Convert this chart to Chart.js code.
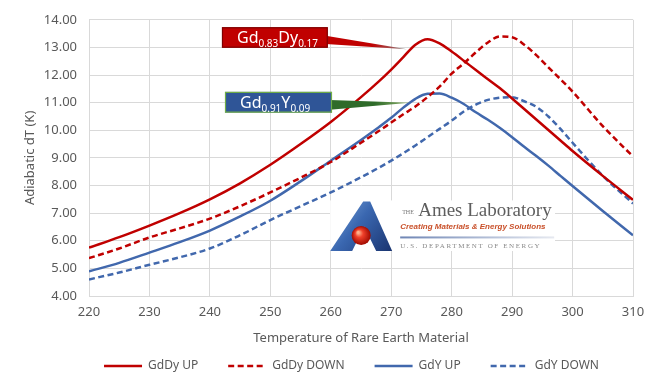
<!DOCTYPE html>
<html>
<head>
<meta charset="utf-8">
<script src="https://cdn.jsdelivr.net/npm/chart.js@4.4.1/dist/chart.umd.min.js"></script>
<style>
  html, body { margin: 0; padding: 0; background: #ffffff; }
  #wrap { width: 656px; height: 374px; }
</style>
</head>
<body>
<div id="wrap"><canvas id="chart" width="656" height="374"></canvas></div>
<script>
// Sample temperatures (K) shared by all four series
const temperatures = [220, 225, 230, 235, 240, 245, 250, 255, 260, 265, 268, 270, 272, 274, 276, 278,
                      280, 282, 284, 286, 288, 290, 292, 294, 296, 298, 300, 305, 310];

// Adiabatic temperature change (K)
const gdDyUp   = [5.75, 6.13, 6.55, 7.00, 7.50, 8.08, 8.75, 9.50, 10.30, 11.20, 11.78, 12.20, 12.65, 13.10, 13.30, 13.15,
                  12.85, 12.52, 12.18, 11.85, 11.52, 11.15, 10.77, 10.39, 10.01, 9.63, 9.25, 8.35, 7.48];
const gdDyDown = [5.37, 5.72, 6.12, 6.45, 6.80, 7.25, 7.75, 8.28, 8.85, 9.55, 9.98, 10.28, 10.58, 10.86, 11.20, 11.58,
                  12.05, 12.42, 12.82, 13.18, 13.40, 13.37, 13.10, 12.72, 12.28, 11.85, 11.40, 10.15, 9.05];
const gdYUp    = [4.89, 5.20, 5.57, 5.95, 6.37, 6.88, 7.45, 8.15, 8.90, 9.65, 10.12, 10.45, 10.82, 11.14, 11.32, 11.33,
                  11.18, 10.95, 10.65, 10.38, 10.08, 9.75, 9.40, 9.07, 8.72, 8.35, 7.98, 7.08, 6.20];
const gdYDown  = [4.60, 4.85, 5.13, 5.40, 5.72, 6.20, 6.75, 7.25, 7.75, 8.30, 8.65, 8.90, 9.17, 9.45, 9.75, 10.05,
                  10.35, 10.68, 10.93, 11.10, 11.18, 11.20, 11.05, 10.85, 10.50, 10.05, 9.55, 8.35, 7.35];

const seriesNames = ['GdDy UP', 'GdDy DOWN', 'GdY UP', 'GdY DOWN'];

// Axis ranges and tick spacing
const xRange = [220, 310];
const xStep = 10;
const yRange = [4, 14];
const yStep = 1;

// Alloy labels: [text, isSubscript]
const gdDyLabel = [['Gd', false], ['0.83', true], ['Dy', false], ['0.17', true]];
const gdYLabel  = [['Gd', false], ['0.91', true], ['Y', false], ['0.09', true]];

const RED = '#c00000';
const BLUE = '#4168ad';
const TEXT = '#595959';
const GRID = '#d9d9d9';
const FONT = "'Noto Sans', 'DejaVu Sans', sans-serif";

function pairs(values) {
  return temperatures.map((t, i) => ({ x: t, y: values[i] }));
}

function makeSet(label, values, color, dashed) {
  return {
    label,
    data: pairs(values),
    borderColor: color,
    backgroundColor: color,
    borderWidth: 2.5,
    borderDash: dashed ? [6, 3.5] : [],
    pointRadius: 0,
    fill: false,
    cubicInterpolationMode: 'monotone'
  };
}

// Draws a label with subscripts starting at x, baseline y
function drawSubText(ctx, parts, x, y, size) {
  let cx = x;
  for (const [txt, sub] of parts) {
    ctx.font = (sub ? Math.round(size * 0.62) : size) + 'px ' + FONT;
    ctx.fillText(txt, cx, sub ? y + size * 0.28 : y);
    cx += ctx.measureText(txt).width;
  }
}

// Callout boxes with tapered pointers toward the curves
const calloutPlugin = {
  id: 'callouts',
  afterDatasetsDraw(chart) {
    const { ctx, scales: { x, y } } = chart;
    const boxes = [
      { parts: gdDyLabel, x0: 242.0, x1: 259.5, y0: 13.73, y1: 12.99, fill: '#c00000', stroke: '#7f0000',
        tip: [272.6, 12.93], c0: '#c00000', c1: '#8c8c8c', baseTop: 13.42, baseBot: 13.12 },
      { parts: gdYLabel, x0: 242.5, x1: 260.2, y0: 11.39, y1: 10.64, fill: '#2f5597', stroke: '#70ad47',
        tip: [273.1, 11.0], c0: '#2f6b2a', c1: '#8fb26b', baseTop: 11.1, baseBot: 10.74 }
    ];
    ctx.save();
    for (const b of boxes) {
      const l = x.getPixelForValue(b.x0), r = x.getPixelForValue(b.x1);
      const t = y.getPixelForValue(b.y0), bt = y.getPixelForValue(b.y1);
      const tx = x.getPixelForValue(b.tip[0]), ty = y.getPixelForValue(b.tip[1]);
      // pointer
      const g = ctx.createLinearGradient(r, 0, tx, 0);
      g.addColorStop(0, b.c0);
      g.addColorStop(0.55, b.c0);
      g.addColorStop(1, b.c1);
      ctx.fillStyle = g;
      ctx.beginPath();
      ctx.moveTo(r - 2, y.getPixelForValue(b.baseTop));
      ctx.lineTo(tx, ty);
      ctx.lineTo(r - 2, y.getPixelForValue(b.baseBot));
      ctx.closePath();
      ctx.fill();
      // box
      ctx.fillStyle = b.fill;
      ctx.fillRect(l, t, r - l, bt - t);
      ctx.strokeStyle = b.stroke;
      ctx.lineWidth = 1.2;
      ctx.strokeRect(l + 0.5, t + 0.5, r - l - 1, bt - t - 1);
      // text
      ctx.fillStyle = '#ffffff';
      ctx.textBaseline = 'alphabetic';
      ctx.textAlign = 'left';
      drawSubText(ctx, b.parts, l + 15, (t + bt) / 2 + 5.5, 16);
    }
    ctx.restore();
  }
};

// Laboratory emblem placed inside the plot
const emblemPlugin = {
  id: 'emblem',
  afterDatasetsDraw(chart) {
    const { ctx, scales: { x, y } } = chart;
    const bx = x.getPixelForValue(259.9), by = y.getPixelForValue(7.46);
    const bw = x.getPixelForValue(297.1) - bx, bh = y.getPixelForValue(5.63) - by;
    ctx.save();
    ctx.fillStyle = '#ffffff';
    ctx.fillRect(bx, by, bw, bh);

    // stylised "A"
    const ax = bx, ay = by;
    const lg = ctx.createLinearGradient(ax, ay, ax + 62, ay + bh);
    lg.addColorStop(0, '#7fa8dc');
    lg.addColorStop(0.45, '#3a67b0');
    lg.addColorStop(1, '#1a3470');
    ctx.fillStyle = lg;
    ctx.beginPath();
    ctx.moveTo(ax, ay + bh);
    ctx.lineTo(ax + 33, ay + 1);
    ctx.lineTo(ax + 40, ay + 1);
    ctx.lineTo(ax + 62, ay + bh);
    ctx.lineTo(ax + 46, ay + bh);
    ctx.lineTo(ax + 34, ay + 26);
    ctx.lineTo(ax + 22, ay + bh);
    ctx.closePath();
    ctx.fill();
    // sphere
    const sx = ax + 31, sy = ay + 35, sr = 9.5;
    const rg = ctx.createRadialGradient(sx - 3, sy - 3, 1, sx, sy, sr);
    rg.addColorStop(0, '#ffb08a');
    rg.addColorStop(0.35, '#f0402a');
    rg.addColorStop(1, '#a00a00');
    ctx.fillStyle = rg;
    ctx.beginPath();
    ctx.arc(sx, sy, sr, 0, Math.PI * 2);
    ctx.fill();

    // wordmark
    ctx.textAlign = 'left';
    ctx.textBaseline = 'alphabetic';
    ctx.fillStyle = '#777777';
    ctx.font = "6px 'Liberation Serif', serif";
    ctx.fillText('THE', ax + 72, ay + 14);
    ctx.fillStyle = '#5e5e5e';
    ctx.font = "19px 'Liberation Serif', serif";
    ctx.fillText('Ames Laboratory', ax + 88, ay + 16);
    ctx.fillStyle = '#c9502a';
    ctx.font = "italic bold 8px 'Liberation Sans', sans-serif";
    ctx.fillText('Creating Materials & Energy Solutions', ax + 70, ay + 29, 152);
    const ug = ctx.createLinearGradient(ax + 70, 0, ax + 224, 0);
    ug.addColorStop(0, '#6f86b5');
    ug.addColorStop(1, '#e6e9f0');
    ctx.fillStyle = ug;
    ctx.fillRect(ax + 70, ay + 36, 154, 2);
    ctx.fillStyle = '#8a8a8a';
    ctx.font = "7px 'Liberation Serif', serif";
    ctx.letterSpacing = '1.6px';
    ctx.fillText('U.S. DEPARTMENT OF ENERGY', ax + 70, ay + 48);
    ctx.restore();
  }
};

// Nudges the legend row so it centres under the plot area
const legendShiftPlugin = {
  id: 'legendShift',
  afterLayout(chart) {
    if (chart.legend) {
      chart.legend.left += 35;
      chart.legend.right += 35;
    }
  }
};

new Chart(document.getElementById('chart'), {
  type: 'line',
  data: {
    datasets: [
      makeSet(seriesNames[0], gdDyUp, RED, false),
      makeSet(seriesNames[1], gdDyDown, RED, true),
      makeSet(seriesNames[2], gdYUp, BLUE, false),
      makeSet(seriesNames[3], gdYDown, BLUE, true)
    ]
  },
  options: {
    responsive: false,
    animation: false,
    devicePixelRatio: 1,
    layout: { padding: { top: 13, right: 23, bottom: 0, left: 0 } },
    plugins: {
      tooltip: { enabled: false },
      legend: {
        position: 'bottom',
        maxHeight: 44,
        labels: {
          usePointStyle: true,
          pointStyle: 'line',
          pointStyleWidth: 38,
          padding: 30,
          color: TEXT,
          font: { family: FONT, size: 12 },
          generateLabels(chart) {
            const items = Chart.defaults.plugins.legend.labels.generateLabels(chart);
            items.forEach(it => {
              const ds = chart.data.datasets[it.datasetIndex];
              it.lineDash = ds.borderDash;
              it.lineWidth = ds.borderWidth;
              it.strokeStyle = ds.borderColor;
            });
            return items;
          }
        }
      }
    },
    scales: {
      x: {
        type: 'linear',
        min: xRange[0],
        max: xRange[1],
        afterFit: s => { s.height = 34; },
        ticks: { stepSize: xStep, color: TEXT, font: { family: FONT, size: 13 }, padding: 8, maxRotation: 0 },
        grid: { color: GRID, drawTicks: false },
        border: { color: GRID },
        title: {
          display: true,
          text: 'Temperature of Rare Earth Material',
          color: TEXT,
          font: { family: FONT, size: 13 },
          padding: { top: 0, bottom: -16 }
        }
      },
      y: {
        min: yRange[0],
        max: yRange[1],
        afterFit: s => { s.width = 89; },
        ticks: {
          stepSize: yStep,
          color: TEXT,
          font: { family: FONT, size: 13 },
          padding: 12,
          callback: v => Number(v).toFixed(2)
        },
        grid: { color: GRID, drawTicks: false },
        border: { color: GRID },
        title: {
          display: true,
          text: 'Adiabatic dT (K)',
          color: TEXT,
          font: { family: FONT, size: 13 },
          padding: { top: 22, bottom: 0 }
        }
      }
    }
  },
  plugins: [calloutPlugin, emblemPlugin, legendShiftPlugin]
});
</script>
</body>
</html>
